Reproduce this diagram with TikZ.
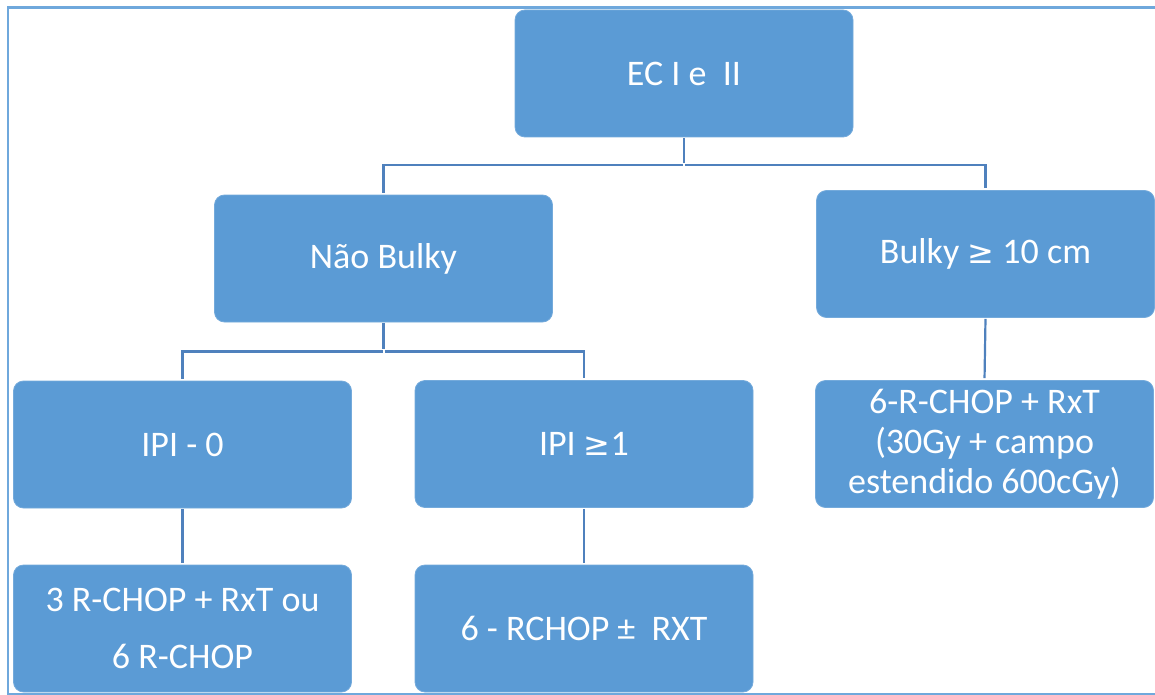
\documentclass[tikz,border=0pt]{standalone}
\usepackage{fontspec}
\setmainfont{Carlito}
\newfontfamily\symf{DejaVu Sans}
\definecolor{boxblue}{HTML}{5B9BD5}
\definecolor{linkblue}{HTML}{4F81BD}
\definecolor{frameblue}{HTML}{6FA8DC}
\begin{document}
\begin{tikzpicture}[x=1pt,y=-1pt,
  box/.style={rectangle, rounded corners=10pt, fill=boxblue, draw=boxblue!85!white, line width=0.8pt,
    minimum width=338pt, minimum height=127pt, text=white, align=center,
    font=\fontsize{36}{44}\selectfont, inner sep=0pt},
  link/.style={draw=linkblue, line width=2.2pt, shorten >=2pt, shorten <=1pt}]
\useasboundingbox (0,0) rectangle (1155,695);
\draw[frameblue, line width=2.5pt] (8,7.5) rectangle (1170,694);
\node[box] (ec) at (684,73.5) {EC I e\ \ II};
\node[box] (nb) at (383.5,258.5) {Não Bulky};
\node[box] (bk) at (985.5,254) {Bulky {\symf\fontsize{32}{40}\selectfont ≥} 10 cm};
\node[box] (ipi0) at (182.5,444.5) {IPI - 0};
\node[box] (ipi1) at (584,444) {IPI {\symf\fontsize{32}{40}\selectfont ≥}1};
\node[box, font=\fontsize{36}{40}\selectfont] (rt) at (984.5,444) {6-R-CHOP + RxT\\(30Gy + campo\\estendido 600cGy)};
\node[box, font=\fontsize{36}{57}\selectfont] (bl) at (182.5,628.5) {3 R-CHOP + RxT ou\\6 R-CHOP};
\node[box] (bm) at (584,628.5) {6 - RCHOP ±\ \ RXT};
\draw[link] (ec.south) -- ++(0,28) coordinate (j1);
\draw[link] (j1) -| (nb.north);
\draw[link] (j1) -| (bk.north);
\draw[link] (nb.south) -- ++(0,29) coordinate (j2);
\draw[link] (j2) -| (ipi0.north);
\draw[link] (j2) -| (ipi1.north);
\draw[link] (bk.south) -- (rt.north);
\draw[link] (ipi0.south) -- (bl.north);
\draw[link] (ipi1.south) -- (bm.north);
\end{tikzpicture}
\end{document}
